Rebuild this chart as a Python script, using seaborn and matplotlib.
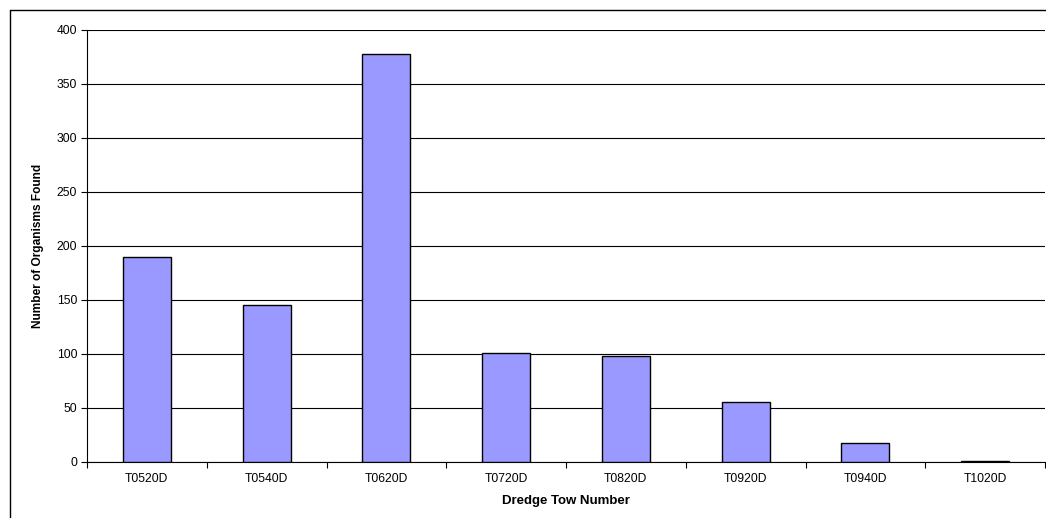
import matplotlib
matplotlib.use("Agg")
import matplotlib.pyplot as plt
import seaborn as sns
import pandas as pd
from matplotlib.lines import Line2D
from matplotlib.ticker import MultipleLocator, FixedLocator

categories = ["T0520D", "T0540D", "T0620D", "T0720D", "T0820D", "T0920D", "T0940D", "T1020D"]
counts = [190, 145, 378, 101, 98, 56, 18, 1]

sns.set_theme(style="white")
plt.rcParams["font.family"] = ["Liberation Sans", "DejaVu Sans"]

df = pd.DataFrame({"tow": categories, "count": counts})

W, H = 1046, 518
fig = plt.figure(figsize=(W / 100, H / 100), dpi=100)
fig.patch.set_facecolor("white")
ax = fig.add_axes([87 / W, 1 - 462 / H, (1045 - 87) / W, (462 - 30) / H])

sns.barplot(data=df, x="tow", y="count", color="#9999FF", width=0.4,
            edgecolor="black", linewidth=1.0, saturation=1, ax=ax, zorder=3)
for p in ax.patches:
    p.set_facecolor("#9999FF")

ax.set_ylim(0, 400)
ax.set_xlim(-0.5, len(categories) - 0.5)
ax.yaxis.set_major_locator(MultipleLocator(50))
ax.grid(axis="y", color="black", linewidth=0.8, zorder=0)
ax.set_axisbelow(True)

for s in ["top", "right"]:
    ax.spines[s].set_visible(False)
ax.spines["left"].set_color("black")
ax.spines["left"].set_linewidth(0.8)
ax.spines["bottom"].set_color("black")
ax.spines["bottom"].set_linewidth(0.8)

ax.tick_params(axis="y", which="major", left=True, length=4, width=0.8, color="black",
               labelsize=8.7, labelcolor="black", pad=3)
ax.tick_params(axis="x", which="major", length=0, labelsize=8.7, labelcolor="black", pad=8)
ax.xaxis.set_minor_locator(FixedLocator([i - 0.5 for i in range(len(categories) + 1)]))
ax.tick_params(axis="x", which="minor", bottom=True, length=4, width=0.8, color="black")

ax.set_xlabel("Dredge Tow Number", fontsize=9.5, fontweight="bold", labelpad=7, color="black")
ax.set_ylabel("Number of Organisms Found", fontsize=8.6, fontweight="bold", labelpad=9, color="black")

# outer chart border
fig.add_artist(Line2D([10 / W, 10 / W], [0, 1 - 10 / H], transform=fig.transFigure,
                      color="black", linewidth=1.0))
fig.add_artist(Line2D([10 / W, 1], [1 - 10 / H, 1 - 10 / H], transform=fig.transFigure,
                      color="black", linewidth=1.0))

fig.savefig("out.png", dpi=100, facecolor="white")
